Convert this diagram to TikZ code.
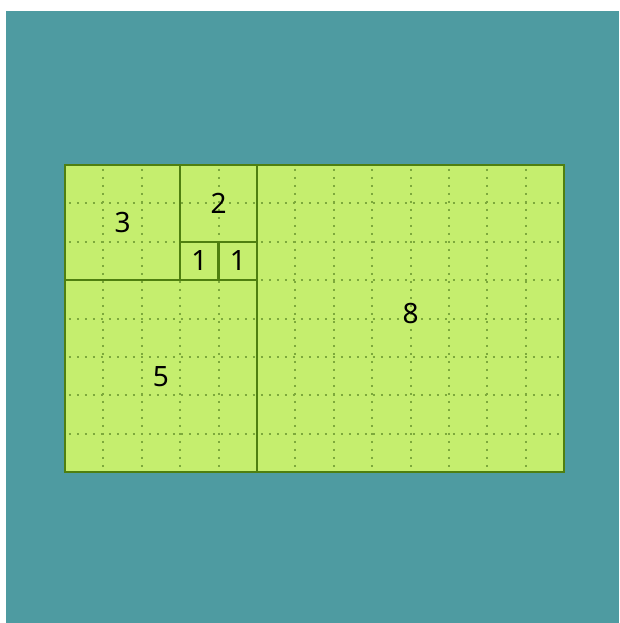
\documentclass[tikz,border=0pt]{standalone}
\usepackage{fontspec}
\setmainfont{Noto Sans}
\definecolor{teal1}{HTML}{4E9BA1}
\definecolor{leaf}{HTML}{C5EE6E}
\definecolor{edge}{HTML}{4F7F10}
\definecolor{dots}{HTML}{7DA93C}
\tikzset{
  sq/.style={draw=edge, line width=2.4pt, minimum size=#1*38.4pt, inner sep=0pt, outer sep=0pt, font=\fontsize{28}{30}\selectfont, text=black},
  gridline/.style={draw=dots, line width=2pt, dash pattern=on 2pt off 6pt}
}
\begin{document}
\begin{tikzpicture}[x=1pt,y=-1pt]
\useasboundingbox (0,0) rectangle (619,623);
\fill[white] (0,0) rectangle (619,623);
\fill[teal1] (6,11) rectangle (619,623);
\begin{scope}[shift={(65,165)}, x=38.4pt, y=-38.4pt]
  \fill[leaf] (0,0) rectangle (13,8);
  \foreach \i in {1,...,12} \draw[gridline] (\i,0.1) -- (\i,8);
  \foreach \j in {1,...,7} \draw[gridline] (0.1,\j) -- (13,\j);
  \node[sq=3] (s3) at (1.5,1.5) {3};
  \node[sq=2] (s2) at (4,1) {2};
  \node[sq=1] (s1a) at (3.5,2.5) {1};
  \node[sq=1] (s1b) at (4.5,2.5) {1};
  \node[sq=5] (s5) at (2.5,5.5) {5};
  \node[sq=8] (s8) at (9,4) {};
  \node[font=\fontsize{28}{30}\selectfont] (l8) at (9,3.88) {8};
\end{scope}
\end{tikzpicture}
\end{document}
